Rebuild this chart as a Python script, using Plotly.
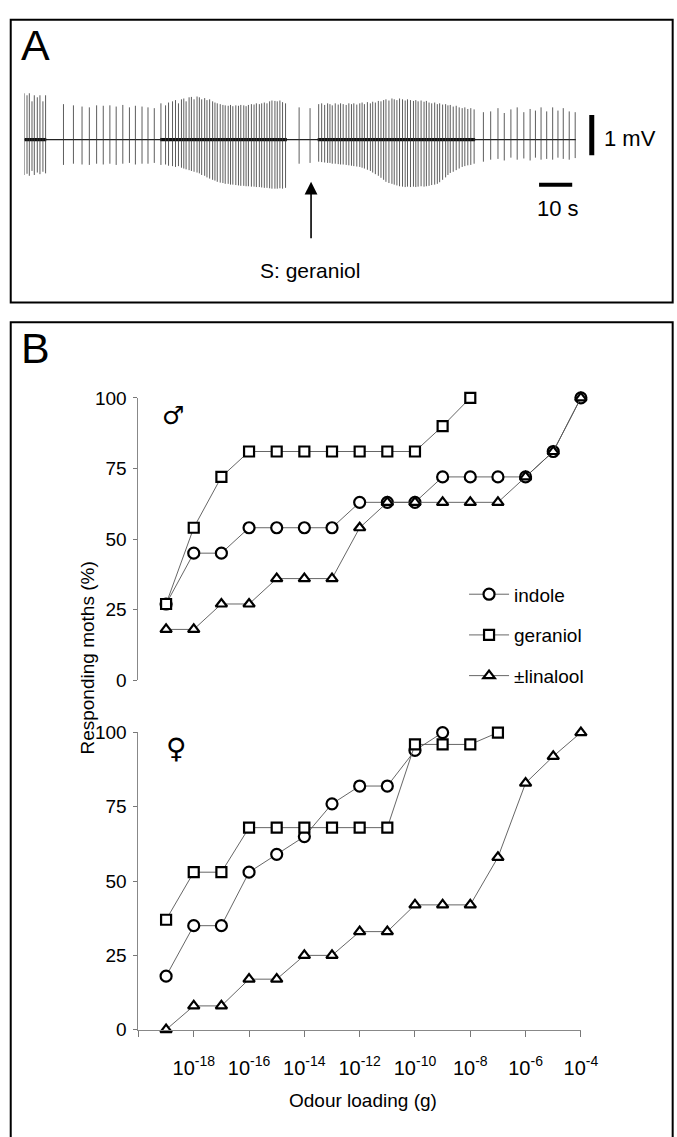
import plotly.graph_objects as go

W, H = 677, 1137
def PX(x): return x / W
def PY(y): return 1 - y / H

# ---------------- Panel B data ----------------
# x = log10(odour loading, g)
male_indole_x = [-19, -18, -17, -16, -15, -14, -13, -12, -11, -10, -9, -8, -7, -6, -5, -4]
male_indole_y = [27, 45, 45, 54, 54, 54, 54, 63, 63, 63, 72, 72, 72, 72, 81, 100]
male_geraniol_x = [-19, -18, -17, -16, -15, -14, -13, -12, -11, -10, -9, -8]
male_geraniol_y = [27, 54, 72, 81, 81, 81, 81, 81, 81, 81, 90, 100]
male_linalool_x = [-19, -18, -17, -16, -15, -14, -13, -12, -11, -10, -9, -8, -7, -6, -5, -4]
male_linalool_y = [18, 18, 27, 27, 36, 36, 36, 54, 63, 63, 63, 63, 63, 72, 81, 100]

female_indole_x = [-19, -18, -17, -16, -15, -14, -13, -12, -11, -10, -9]
female_indole_y = [18, 35, 35, 53, 59, 65, 76, 82, 82, 94, 100]
female_geraniol_x = [-19, -18, -17, -16, -15, -14, -13, -12, -11, -10, -9, -8, -7]
female_geraniol_y = [37, 53, 53, 68, 68, 68, 68, 68, 68, 96, 96, 96, 100]
female_linalool_x = [-19, -18, -17, -16, -15, -14, -13, -12, -11, -10, -9, -8, -7, -6, -5, -4]
female_linalool_y = [0, 8, 8, 17, 17, 25, 25, 33, 33, 42, 42, 42, 58, 83, 92, 100]

y_ticks = [0, 25, 50, 75, 100]
x_tick_exp = [-20, -18, -16, -14, -12, -10, -8, -6, -4]
x_tick_text = ["", "10<sup>-18</sup>", "10<sup>-16</sup>", "10<sup>-14</sup>", "10<sup>-12</sup>",
               "10<sup>-10</sup>", "10<sup>-8</sup>", "10<sup>-6</sup>", "10<sup>-4</sup>"]

# ---------------- Panel A data (time s, up mV, down mV) ----------------
spikes_pre = [(0.0, 1.15, 0.88), (0.8, 1.10, 0.85), (1.5, 1.15, 0.90), (2.3, 0.95, 0.78),
              (3.0, 1.10, 0.88), (3.9, 1.05, 0.82), (4.7, 1.10, 0.86), (5.6, 0.95, 0.80),
              (6.4, 1.10, 0.84)]
spikes_spont1 = [(11.8, 0.88, 0.63), (14.8, 0.85, 0.60), (17.4, 0.82, 0.62), (19.6, 0.80, 0.63),
                 (21.8, 0.85, 0.60), (23.8, 0.84, 0.62), (25.8, 0.85, 0.60), (27.7, 0.82, 0.63),
                 (29.7, 0.86, 0.60), (31.7, 0.80, 0.58), (33.5, 0.84, 0.62), (35.5, 0.82, 0.60),
                 (37.3, 0.80, 0.60), (39.2, 0.78, 0.58)]
spikes_burst1 = [(41.2, 0.90, 0.63), (42.6, 0.85, 0.62), (43.5, 0.92, 0.65), (44.7, 0.95, 0.66),
                 (45.6, 0.98, 0.68), (46.5, 0.90, 0.66), (47.4, 1.00, 0.70), (48.1, 1.02, 0.72),
                 (48.8, 0.95, 0.74), (49.7, 1.05, 0.76), (50.4, 1.06, 0.78), (51.2, 1.00, 0.80),
                 (52.1, 1.07, 0.82), (52.8, 1.05, 0.84), (53.5, 1.00, 0.88), (54.4, 1.03, 0.90),
                 (55.1, 0.98, 0.94), (55.9, 1.00, 0.97), (56.8, 0.95, 1.00), (57.5, 0.92, 1.02),
                 (58.2, 0.90, 1.05), (59.1, 0.88, 1.07), (59.9, 0.86, 1.08), (60.6, 0.85, 1.10),
                 (61.5, 0.84, 1.10), (62.2, 0.86, 1.12), (62.9, 0.83, 1.12), (63.8, 0.85, 1.13),
                 (64.6, 0.84, 1.14), (65.3, 0.86, 1.15), (66.2, 0.85, 1.15), (66.9, 0.83, 1.16),
                 (67.6, 0.86, 1.16), (68.5, 0.88, 1.17), (69.3, 0.87, 1.17), (70.0, 0.90, 1.18),
                 (70.9, 0.88, 1.18), (71.6, 0.90, 1.19), (72.4, 0.92, 1.20), (73.2, 0.90, 1.20),
                 (74.0, 0.95, 1.21), (74.7, 0.97, 1.22), (75.6, 0.96, 1.22), (76.3, 0.95, 1.22),
                 (77.1, 0.97, 1.21), (77.9, 0.93, 1.22), (78.8, 0.90, 1.20)]
spikes_gap = [(82.9, 0.80, 0.60), (86.2, 0.78, 0.58)]
spikes_burst2 = [(88.8, 0.88, 0.55), (89.7, 0.90, 0.56), (90.6, 0.86, 0.57), (91.5, 0.90, 0.58),
                 (92.2, 0.88, 0.58), (92.9, 0.85, 0.60), (93.8, 0.90, 0.60), (94.7, 0.87, 0.61),
                 (95.4, 0.90, 0.62), (96.2, 0.88, 0.62), (97.1, 0.86, 0.63), (97.9, 0.90, 0.64),
                 (98.7, 0.88, 0.65), (99.4, 0.90, 0.66), (100.3, 0.87, 0.67), (101.2, 0.90, 0.68),
                 (101.9, 0.92, 0.70), (102.6, 0.88, 0.72), (103.5, 0.93, 0.75), (104.4, 0.90, 0.78),
                 (105.1, 0.94, 0.82), (105.9, 0.92, 0.86), (106.8, 0.96, 0.90), (107.6, 0.95, 0.95),
                 (108.4, 0.98, 1.00), (109.1, 1.00, 1.05), (110.0, 0.97, 1.08), (110.9, 1.02, 1.10),
                 (111.6, 1.00, 1.12), (112.4, 0.98, 1.14), (113.2, 1.02, 1.16), (114.1, 1.00, 1.17),
                 (114.9, 0.97, 1.18), (115.6, 1.00, 1.17), (116.5, 0.98, 1.18), (117.4, 0.96, 1.17),
                 (118.1, 0.98, 1.18), (118.8, 0.95, 1.17), (119.7, 0.97, 1.16), (120.6, 0.94, 1.17),
                 (121.3, 0.96, 1.16), (122.1, 0.92, 1.15), (122.9, 0.90, 1.13), (123.8, 0.92, 1.12),
                 (124.6, 0.88, 1.10), (125.3, 0.90, 1.06), (126.2, 0.87, 1.00), (127.1, 0.88, 0.94),
                 (127.8, 0.85, 0.88), (128.5, 0.86, 0.83), (129.4, 0.82, 0.80), (130.3, 0.84, 0.76),
                 (131.2, 0.80, 0.72), (132.1, 0.78, 0.68), (132.9, 0.80, 0.66), (133.8, 0.76, 0.64),
                 (134.7, 0.78, 0.63), (135.7, 0.75, 0.60)]
spikes_spont2 = [(138.5, 0.68, 0.55), (140.7, 0.70, 0.50), (142.9, 0.78, 0.48), (144.8, 0.66, 0.52),
                 (146.8, 0.75, 0.45), (148.7, 0.80, 0.50), (150.7, 0.68, 0.47), (152.6, 0.76, 0.52),
                 (154.2, 0.72, 0.45), (155.9, 0.80, 0.50), (157.6, 0.70, 0.48), (159.4, 0.80, 0.50),
                 (161.0, 0.72, 0.45), (162.6, 0.78, 0.48), (164.4, 0.70, 0.50), (166.2, 0.68, 0.46)]
recording_span = (0.0, 166.4)
noisy_periods = [(0.0, 6.6), (41.0, 79.2), (88.5, 136.0)]
stim_time = 86.5

# ---------------- Figure ----------------
FONT = "Liberation Sans, Arial, sans-serif"
fig = go.Figure()

# Panel A traces
all_spikes = spikes_pre + spikes_spont1 + spikes_burst1 + spikes_gap + spikes_burst2 + spikes_spont2
sx, sy = [], []
for t, up, dn in all_spikes:
    sx += [t, t, None]
    sy += [up, -dn, None]
fig.add_trace(go.Scatter(x=[recording_span[0], recording_span[1]], y=[0, 0], mode="lines",
                         line=dict(color="#222", width=1.3), xaxis="x3", yaxis="y3",
                         showlegend=False, hoverinfo="skip"))
nx, ny = [], []
for a, b in noisy_periods:
    nx += [a, b, None]
    ny += [0, 0, None]
fig.add_trace(go.Scatter(x=nx, y=ny, mode="lines", line=dict(color="#111", width=3.2),
                         xaxis="x3", yaxis="y3", showlegend=False, hoverinfo="skip"))
fig.add_trace(go.Scatter(x=sx, y=sy, mode="lines", line=dict(color="#333", width=0.8),
                         xaxis="x3", yaxis="y3", showlegend=False, hoverinfo="skip"))

# Panel B traces
series = [
    ("indole", "circle", 11, male_indole_x, male_indole_y, female_indole_x, female_indole_y),
    ("geraniol", "square", 10, male_geraniol_x, male_geraniol_y, female_geraniol_x, female_geraniol_y),
    ("\u00b1linalool", "triangle-up", 10, male_linalool_x, male_linalool_y, female_linalool_x, female_linalool_y),
]
for name, sym, size, mx, my, fx, fy in series:
    mk = dict(symbol=sym, size=size, color="white", line=dict(color="black", width=2.2))
    ln = dict(color="#555", width=0.9)
    fig.add_trace(go.Scatter(x=[10.0 ** e for e in mx], y=my, mode="lines+markers", name=name,
                             marker=mk, line=ln, xaxis="x", yaxis="y", legendgroup=name,
                             cliponaxis=False))
    fig.add_trace(go.Scatter(x=[10.0 ** e for e in fx], y=fy, mode="lines+markers", name=name,
                             marker=mk, line=ln, xaxis="x2", yaxis="y2", legendgroup=name,
                             showlegend=False, cliponaxis=False))

xdom = [PX(142), PX(596)]
xrange_log = [-20, -3.995]
yaxis_common = dict(range=[-0.05, 100.05], tickvals=y_ticks, ticks="outside", ticklen=4, tickcolor="#777",
                    showline=True, linecolor="#888", linewidth=1, showgrid=False, zeroline=False,
                    ticklabelstandoff=3,
                    tickfont=dict(family=FONT, size=19, color="black"))
fig.update_layout(
    width=W, height=H, margin=dict(l=0, r=0, t=0, b=0),
    paper_bgcolor="white", plot_bgcolor="white",
    font=dict(family=FONT, color="black"),
    xaxis=dict(domain=xdom, type="log", range=xrange_log, anchor="y", showline=False,
               showticklabels=False, ticks="", showgrid=False, zeroline=False),
    yaxis=dict(domain=[PY(683), PY(395)], anchor="x", **yaxis_common),
    xaxis2=dict(domain=xdom, type="log", range=xrange_log, anchor="y2", showline=True,
                linecolor="#888", linewidth=1, ticks="outside", ticklen=6, tickcolor="#777",
                tickvals=[10.0 ** e for e in x_tick_exp], ticktext=x_tick_text,
                ticklabelstandoff=14,
                tickfont=dict(family=FONT, size=20, color="black"), showgrid=False, zeroline=False),
    yaxis2=dict(domain=[PY(1039), PY(736)], anchor="x2", **yaxis_common),
    xaxis3=dict(domain=[PX(25), PX(675)], range=[0, 191.2], visible=False),
    yaxis3=dict(domain=[PY(240), PY(60)], range=[-2.634, 1.756], visible=False, anchor="x3"),
    legend=dict(x=PX(476), y=PY(576), xanchor="left", yanchor="top", bgcolor="rgba(0,0,0,0)",
                font=dict(family=FONT, size=19, color="black"), itemwidth=40,
                tracegroupgap=13),
)

# Frames
fig.add_shape(type="rect", xref="paper", yref="paper", x0=PX(11), x1=PX(690), y0=PY(298), y1=PY(10),
              line=dict(color="black", width=2))
fig.add_shape(type="rect", xref="paper", yref="paper", x0=PX(11), x1=PX(690), y0=PY(1160), y1=PY(318),
              line=dict(color="black", width=2))

# Scale bars (in data units: 1 mV, 10 s)
fig.add_shape(type="line", xref="x3", yref="y3", x0=171.2, x1=171.2, y0=0.61, y1=-0.39,
              line=dict(color="black", width=5))
fig.add_shape(type="line", xref="x3", yref="y3", x0=155.3, x1=165.3, y0=-1.12, y1=-1.12,
              line=dict(color="black", width=4))

ann = [
    dict(text="A", x=PX(19), y=PY(36), font=dict(size=43), xanchor="left"),
    dict(text="B", x=PX(19), y=PY(344), font=dict(size=43), xanchor="left"),
    dict(text="1 mV", x=PX(618), y=PY(131), font=dict(size=22), xanchor="left"),
    dict(text="10 s", x=PX(572), y=PY(202), font=dict(size=22)),
    dict(text="S: geraniol", x=PX(318), y=PY(265), font=dict(size=21)),
    dict(text="\u2642", x=PX(177), y=PY(413), font=dict(size=25, family="DejaVu Sans")),
    dict(text="\u2640", x=PX(181), y=PY(752), font=dict(size=28, family="DejaVu Sans")),
    dict(text="Responding moths (%)", x=PX(90), y=PY(660), textangle=-90, font=dict(size=19)),
    dict(text="Odour loading (g)", x=PX(372), y=PY(1111), font=dict(size=19)),
]
for a in ann:
    a.setdefault("xref", "paper")
    a.setdefault("yref", "paper")
    a.setdefault("showarrow", False)
    a.setdefault("xanchor", "center")
    a.setdefault("yanchor", "middle")
    a["font"].setdefault("family", FONT)
    a["font"].setdefault("color", "black")
    fig.add_annotation(**a)

# Stimulus arrow
fig.add_annotation(x=stim_time, y=-1.05, xref="x3", yref="y3", text="", showarrow=True,
                   ax=0, ay=58, arrowhead=2, arrowsize=1.6, arrowwidth=1.6, arrowcolor="black")

fig.write_html("out.html")
